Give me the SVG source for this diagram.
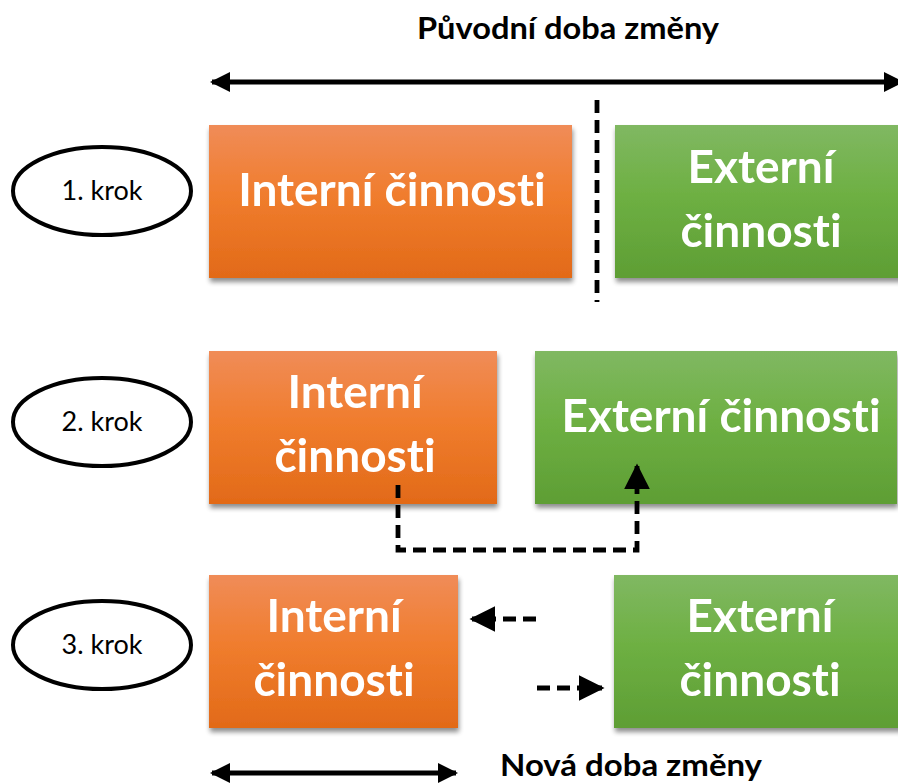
<svg xmlns="http://www.w3.org/2000/svg" width="898" height="784" viewBox="0 0 898 784">
  <style>
    text { font-variant-ligatures: none; font-feature-settings: "liga" 0, "dlig" 0; }
    .lbl { font-family: Lato, "Open Sans", "Liberation Sans", sans-serif; font-weight: bold; fill: #ffffff; font-size: 46px; text-anchor: middle; }
    .ttl { font-family: Lato, "Open Sans", "Liberation Sans", sans-serif; font-weight: bold; fill: #000000; font-size: 31px; text-anchor: middle; }
    .step { font-family: Lato, "Open Sans", "Liberation Sans", sans-serif; fill: #000000; font-size: 27px; text-anchor: middle; }
    .oval { fill: #ffffff; stroke: #000000; stroke-width: 4; }
    .solid { stroke: #000000; stroke-width: 5; fill: none; }
    .dash { stroke: #000000; stroke-width: 4.8; fill: none; stroke-dasharray: 13 7; }
  </style>
  <defs>
    <linearGradient id="gOrange" x1="0" y1="0" x2="0" y2="1">
      <stop offset="0" stop-color="#F08C58"/>
      <stop offset="0.45" stop-color="#F07D2E"/>
      <stop offset="1" stop-color="#E26A18"/>
    </linearGradient>
    <linearGradient id="gGreen" x1="0" y1="0" x2="0" y2="1">
      <stop offset="0" stop-color="#80B862"/>
      <stop offset="0.45" stop-color="#6EB043"/>
      <stop offset="1" stop-color="#5E9E34"/>
    </linearGradient>
    <filter id="shadow" x="-5%" y="-5%" width="115%" height="120%">
      <feGaussianBlur in="SourceAlpha" stdDeviation="2.5"/>
      <feOffset dx="1" dy="4" result="b"/>
      <feComponentTransfer><feFuncA type="linear" slope="0.45"/></feComponentTransfer>
      <feMerge><feMergeNode/><feMergeNode in="SourceGraphic"/></feMerge>
    </filter>
    <marker id="headSolid" viewBox="0 0 10 10" refX="9" refY="5" markerWidth="4" markerHeight="4" orient="auto-start-reverse" markerUnits="strokeWidth">
      <path d="M0,0 L10,5 L0,10 z" fill="#000000"/>
    </marker>
    <marker id="headDash" viewBox="0 0 10 10" refX="9" refY="5" markerWidth="5.4" markerHeight="5.4" orient="auto" markerUnits="strokeWidth">
      <path d="M0,0 L10,5 L0,10 z" fill="#000000"/>
    </marker>
  </defs>

  <!-- headings -->
  <text class="ttl" x="568" y="39" textLength="302" lengthAdjust="spacingAndGlyphs">Původní doba změny</text>
  <text class="ttl" x="631" y="776" textLength="262" lengthAdjust="spacingAndGlyphs">Nová doba změny</text>

  <!-- step 1 -->
  <g id="krok1">
    <ellipse class="oval" cx="102" cy="191" rx="89" ry="44"/>
    <text class="step" x="102" y="200">1. krok</text>
  </g>
  <g id="interni1" filter="url(#shadow)">
    <rect x="209" y="125" width="363" height="153" fill="url(#gOrange)"/>
    <text class="lbl" x="392" y="206">Interní činnosti</text>
  </g>
  <g id="externi1" filter="url(#shadow)">
    <rect x="615" y="125" width="290" height="153" fill="url(#gGreen)"/>
    <text class="lbl" x="761" y="183">Externí</text>
    <text class="lbl" x="761" y="247">činnosti</text>
  </g>

  <!-- step 2 -->
  <g id="krok2">
    <ellipse class="oval" cx="102" cy="422" rx="89" ry="44"/>
    <text class="step" x="102" y="431">2. krok</text>
  </g>
  <g id="interni2" filter="url(#shadow)">
    <rect x="209" y="351" width="288" height="153" fill="url(#gOrange)"/>
    <text class="lbl" x="355" y="408">Interní</text>
    <text class="lbl" x="355" y="472">činnosti</text>
  </g>
  <g id="externi2" filter="url(#shadow)">
    <rect x="535" y="351" width="362" height="153" fill="url(#gGreen)"/>
    <text class="lbl" x="721" y="432">Externí činnosti</text>
  </g>

  <!-- step 3 -->
  <g id="krok3">
    <ellipse class="oval" cx="102" cy="645" rx="89" ry="44"/>
    <text class="step" x="102" y="654">3. krok</text>
  </g>
  <g id="interni3" filter="url(#shadow)">
    <rect x="209" y="575" width="249" height="153" fill="url(#gOrange)"/>
    <text class="lbl" x="334" y="632">Interní</text>
    <text class="lbl" x="334" y="696">činnosti</text>
  </g>
  <g id="externi3" filter="url(#shadow)">
    <rect x="614" y="575" width="290" height="153" fill="url(#gGreen)"/>
    <text class="lbl" x="760" y="632">Externí</text>
    <text class="lbl" x="760" y="696">činnosti</text>
  </g>

  <!-- connectors -->
  <g id="connectors">
    <line class="solid" x1="212" y1="82" x2="902" y2="82" marker-start="url(#headSolid)" marker-end="url(#headSolid)"/>
    <line class="dash" x1="597" y1="100" x2="597" y2="302" stroke-dasharray="12 7"/>
    <path class="dash" d="M398,485 V550 H637 V466" marker-end="url(#headDash)"/>
    <line class="dash" x1="536" y1="619" x2="472" y2="619" stroke-dasharray="14 6" marker-end="url(#headDash)"/>
    <line class="dash" x1="537" y1="688" x2="602" y2="688" stroke-dasharray="14 6" marker-end="url(#headDash)"/>
    <line class="solid" x1="212" y1="773" x2="456" y2="773" marker-start="url(#headSolid)" marker-end="url(#headSolid)"/>
  </g>
</svg>
